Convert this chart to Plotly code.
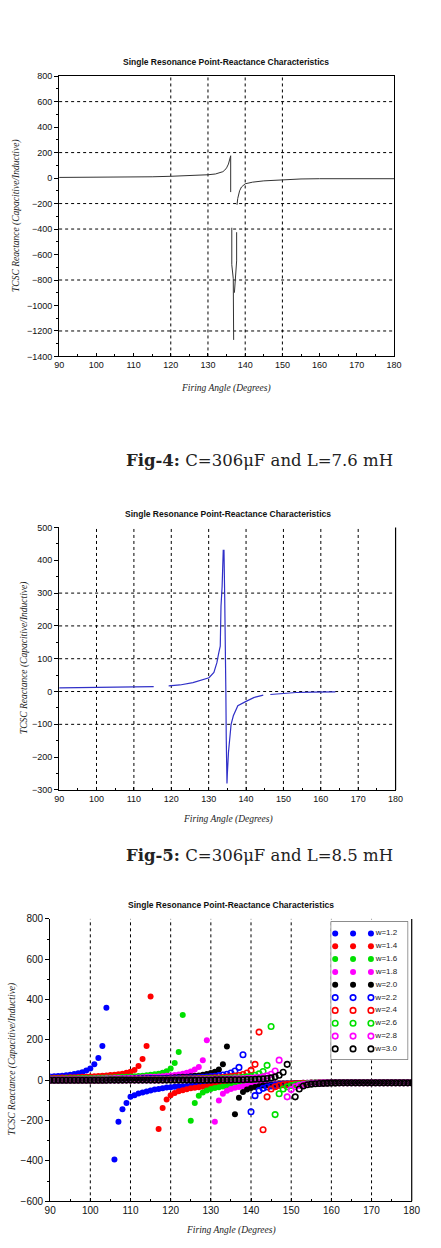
import plotly.graph_objects as go

PAGE_W, PAGE_H = 441, 1248

# ---------------- Fig-4 (C=306uF, L=7.6 mH) ----------------
FIG4_X = [90, 100, 110, 115, 120, 125, 130, 132, 133, 134, 134.5, 135, 135.5, 136, 136.1, 136.1, None,
          137.8, 138.0, 138.5, 139, 140, 142, 145, 150, 155, 160, 170, 180]
FIG4_Y = [5, 6, 8, 10, 14, 19, 26, 32, 39, 50, 62, 80, 110, 155, 175, -110, None,
          -210, -160, -100, -70, -45, -32, -22, -12, -7, -5, -5, -5]
FIG4_SPIKE_X = [136.4, 136.4, 136.8, 136.9, 136.9, None, 137.7, 137.7, 137.1]
FIG4_SPIKE_Y = [-390, -680, -790, -990, -1270, None, -425, -650, -900]
FIG4_GRID_X = [120, 130, 140, 150]
FIG4_GRID_Y = [600, 200, -200, -400, -800, -1200]

# ---------------- Fig-5 (C=306uF, L=8.5 mH) ----------------
FIG5_X = [90, 100, 107, 108, 115.3, None,
          119.3, 122.3, 125.8, 128.4, 130.1, 131.4, 132.2, 132.7, 133.1, 133.3,
          133.6, 133.9, 134.1, 134.3, 134.5, 134.6, 134.7, 134.9, 135.0, 135.3,
          135.6, 136.0, 136.6, 137.8, 140.0, 142.2, 144.6, None,
          146.5, 149.9, 153.4, 157.7, 163.9]
FIG5_Y = [11, 12, 13, 15, 15, None,
          17, 20, 27, 35, 42, 58, 88, 118, 138, 260,
          320, 430, 430, 280, 145, 0, -140, -280, -250, -185,
          -140, -100, -74, -43, -30, -18, -11, None,
          -9, -6, -3, -2, -1]
FIG5_GRID_X = [100, 110, 120, 130, 140, 150, 160, 170]
FIG5_GRID_Y = [300, 200, 100, 0, -100]

# ---------------- Fig-6 (family of curves) ----------------
ANGLES = list(range(90, 181))
W_LABELS = ["w=1.2", "w=1.4", "w=1.6", "w=1.8", "w=2.0",
            "w=2.2", "w=2.4", "w=2.6", "w=2.8", "w=3.0"]
W_COLORS = ["#0000ff", "#ff0000", "#00e000", "#ff00ff", "#000000",
            "#0000ff", "#ff0000", "#00e000", "#ff00ff", "#000000"]
W_FILLED = [True, True, True, True, True, False, False, False, False, False]

W12 = [19, 20, 21, 23, 25, 28, 31, 35, 40, 48,
       58, 79, 110, 170, 360, None, -393, -206, -143, -112,
       -82, -74, -66, -61, -56, -51, -46, -43, -40, -36,
       -34, -32, -30, -29, -28, -27, -26, -25, -24, -23,
       -22, -21, -21, -20, -20, -19, -19, -18, -18, -17,
       -17, -16, -16, -16, -15, -15, -15, -14, -14, -14,
       -14, -13, -13, -13, -13, -13, -13, -12, -12, -12,
       -12, -12, -12, -12, -12, -12, -12, -12, -12, -12,
       -12, -12, -12, -12, -12, -12, -12, -12, -12, -12,
       -12]
W14 = [12, 13, 13, 14, 14, 15, 15, 16, 17, 18,
       19, 20, 21, 22, 24, 26, 28, 30, 33, 37,
       42, 51, 71, 105, 170, 416, None, -242, -137, -95,
       -74, -63, -54, -49, -44, -40, -37, -34, -32, -30,
       -28, -27, -26, -25, -24, -23, -22, -21, -20, -20,
       -19, -18, -18, -17, -17, -16, -16, -15, -15, -15,
       -14, -14, -14, -13, -13, -13, -13, -12, -12, -12,
       -12, -12, -12, -12, -12, -12, -12, -12, -12, -12,
       -12, -12, -12, -12, -12, -12, -12, -12, -12, -12,
       -12]
W16 = [9, 9, 9, 9, 10, 10, 10, 11, 11, 11,
       12, 12, 13, 13, 14, 14, 15, 16, 17, 18,
       19, 20, 21, 23, 25, 27, 30, 33, 38, 45,
       58, 86, 140, 324, None, -201, -112, -77, -60, -50,
       -43, -38, -34, -31, -29, -27, -25, -24, -23, -22,
       -21, -20, -19, -18, -18, -17, -17, -16, -16, -15,
       -15, -15, -14, -14, -14, -13, -13, -12, -12, -12,
       -12, -12, -12, -12, -12, -12, -12, -12, -12, -12,
       -12, -12, -12, -12, -12, -12, -12, -12, -12, -12,
       -12]
W18 = [6, 6, 7, 7, 7, 7, 7, 8, 8, 8,
       8, 9, 9, 9, 10, 10, 11, 11, 12, 12,
       13, 13, 14, 15, 16, 17, 18, 19, 20, 22,
       24, 26, 29, 33, 38, 44, 53, 66, 99, 199,
       None, -206, -100, -67, -52, -43, -37, -33, -30, -27,
       -25, -24, -22, -21, -20, -19, -18, -18, -17, -16,
       -16, -15, -15, -14, -14, -13, -13, -12, -12, -12,
       -12, -12, -12, -12, -12, -12, -12, -12, -12, -12,
       -12, -12, -12, -12, -12, -12, -12, -12, -12, -12,
       -12]
W20 = [4, 4, 4, 4, 4, 4, 5, 5, 5, 5,
       5, 6, 6, 6, 6, 7, 7, 7, 8, 8,
       8, 9, 9, 10, 10, 11, 11, 12, 12, 13,
       14, 15, 16, 17, 18, 20, 22, 24, 27, 31,
       36, 43, 54, 79, 168, None, -168, -87, -58, -45,
       -38, -33, -29, -26, -24, -22, -21, -20, -19, -18,
       -17, -16, -15, -15, -14, -14, -13, -13, -12, -12,
       -12, -12, -12, -12, -12, -12, -12, -12, -12, -12,
       -12, -12, -12, -12, -12, -12, -12, -12, -12, -12,
       -12]
W22 = [2, 2, 2, 2, 2, 3, 3, 3, 3, 3,
       3, 3, 3, 4, 4, 4, 4, 4, 5, 5,
       5, 5, 6, 6, 6, 7, 7, 7, 8, 8,
       9, 9, 10, 10, 11, 12, 13, 14, 15, 16,
       18, 20, 23, 26, 30, 36, 46, 64, 127, None,
       -156, -76, -51, -40, -33, -28, -25, -22, -20, -19,
       -18, -17, -16, -15, -15, -14, -14, -13, -13, -12,
       -12, -12, -12, -12, -12, -12, -12, -12, -12, -12,
       -12, -12, -12, -12, -12, -12, -12, -12, -12, -12,
       -12]
W24 = [1, 1, 1, 2, 2, 2, 2, 2, 2, 2,
       2, 2, 2, 2, 3, 3, 3, 3, 3, 3,
       3, 4, 4, 4, 4, 4, 5, 5, 5, 5,
       6, 6, 6, 7, 7, 8, 8, 9, 9, 10,
       11, 12, 13, 14, 16, 18, 21, 24, 29, 36,
       49, 79, 239, -245, -82, -43, -32, -26, -22, -20,
       -18, -17, -16, -15, -15, -14, -14, -13, -13, -12,
       -12, -12, -12, -12, -12, -12, -12, -12, -12, -12,
       -12, -12, -12, -12, -12, -12, -12, -12, -12, -12,
       -12]
W26 = [1, 1, 1, 1, 1, 1, 1, 1, 2, 2,
       2, 2, 2, 2, 2, 2, 2, 2, 2, 3,
       3, 3, 3, 3, 3, 3, 3, 4, 4, 4,
       4, 4, 5, 5, 5, 5, 6, 6, 6, 7,
       7, 8, 8, 9, 10, 11, 12, 13, 15, 17,
       20, 25, 32, 44, 74, 267, -170, -67, -43, -32,
       -26, -22, -20, -18, -16, -15, -14, -14, -13, -13,
       -12, -12, -12, -12, -12, -12, -12, -12, -12, -12,
       -12, -12, -12, -12, -12, -12, -12, -12, -12, -12,
       -12]
W28 = [1, 1, 1, 1, 1, 1, 1, 1, 1, 1,
       1, 1, 1, 1, 1, 1, 1, 1, 1, 2,
       2, 2, 2, 2, 2, 2, 2, 2, 2, 3,
       3, 3, 3, 3, 3, 3, 4, 4, 4, 4,
       4, 5, 5, 5, 6, 6, 7, 7, 8, 9,
       10, 12, 14, 17, 22, 30, 46, 100, None, -82,
       -46, -32, -25, -21, -18, -16, -15, -14, -13, -13,
       -12, -12, -12, -12, -12, -12, -12, -12, -12, -12,
       -12, -12, -12, -12, -12, -12, -12, -12, -12, -12,
       -12]
W30 = [0, 0, 0, 0, 0, 0, 0, 0, 0, 0,
       0, 0, 0, 0, 0, 1, 1, 1, 1, 1,
       1, 1, 1, 1, 1, 1, 1, 1, 1, 1,
       1, 1, 1, 1, 1, 1, 1, 1, 1, 1,
       1, 2, 2, 2, 2, 2, 3, 3, 3, 4,
       4, 5, 6, 7, 9, 12, 17, 25, 40, 79,
       None, -82, -43, -28, -22, -19, -17, -16, -15, -14,
       -13, -13, -12, -12, -12, -12, -12, -12, -12, -12,
       -12, -12, -12, -12, -12, -12, -12, -12, -12, -12,
       -12]
W_SERIES = [W12, W14, W16, W18, W20, W22, W24, W26, W28, W30]
for s in W_SERIES:
    assert len(s) == len(ANGLES), len(s)
FIG6_GRID_X = [100, 110, 120, 130, 140, 150, 160, 170]

TITLE = "Single Resonance Point-Reactance Characteristics"
YTITLE = "TCSC Reactance (Capacitive/Inductive)"
XTITLE = "Firing Angle (Degrees)"
CAP4 = "<b>Fig-4:</b> C=306\u03bcF and L=7.6 mH"
CAP5 = "<b>Fig-5:</b> C=306\u03bcF and L=8.5 mH"


def px(x):
    return x / PAGE_W


def py(y):
    return 1 - y / PAGE_H


def marker_style(col, filled):
    if filled:
        return dict(symbol="circle", size=6, color=col, line=dict(width=0))
    return dict(symbol="circle-open", size=5.5, color=col, line=dict(width=1.6, color=col))


fig = go.Figure()

fig.add_trace(go.Scatter(x=FIG4_X, y=FIG4_Y, mode="lines", xaxis="x", yaxis="y",
                         line=dict(color="#333333", width=1), showlegend=False))
fig.add_trace(go.Scatter(x=FIG4_SPIKE_X, y=FIG4_SPIKE_Y, mode="lines", xaxis="x", yaxis="y",
                         line=dict(color="#333333", width=1), showlegend=False))
fig.add_trace(go.Scatter(x=FIG5_X, y=FIG5_Y, mode="lines", xaxis="x2", yaxis="y2",
                         line=dict(color="#3030c8", width=1.2), showlegend=False))

for lab, col, filled, ys in zip(W_LABELS, W_COLORS, W_FILLED, W_SERIES):
    fig.add_trace(go.Scatter(x=ANGLES, y=ys, mode="markers", xaxis="x3", yaxis="y3",
                             marker=marker_style(col, filled), name=lab, showlegend=False))

# legend drawn in a small auxiliary axis
LEG_COLS = [0, 1, 2]
for i, (lab, col, filled) in enumerate(zip(W_LABELS, W_COLORS, W_FILLED)):
    fig.add_trace(go.Scatter(x=LEG_COLS, y=[i] * len(LEG_COLS), mode="markers+text",
                             xaxis="x4", yaxis="y4", marker=marker_style(col, filled),
                             text=["", "", lab], textposition="middle right",
                             textfont=dict(family="Liberation Sans", size=8, color="#222"),
                             showlegend=False, hoverinfo="skip"))

TICKFONT = dict(family="Liberation Sans", size=9, color="#111")
shapes = []
GRID_LINE = dict(color="#000", width=1, dash="3px,3px")
for v in FIG4_GRID_X:
    shapes.append(dict(type="line", xref="x", yref="y domain", x0=v, x1=v, y0=0, y1=1,
                       line=GRID_LINE, layer="below"))
for v in FIG4_GRID_Y:
    shapes.append(dict(type="line", xref="x domain", yref="y", x0=0, x1=1, y0=v, y1=v,
                       line=GRID_LINE, layer="below"))
for v in FIG5_GRID_X:
    shapes.append(dict(type="line", xref="x2", yref="y2 domain", x0=v, x1=v, y0=0, y1=1,
                       line=GRID_LINE, layer="below"))
for v in FIG5_GRID_Y:
    shapes.append(dict(type="line", xref="x2 domain", yref="y2", x0=0, x1=1, y0=v, y1=v,
                       line=GRID_LINE, layer="below"))
for v in FIG6_GRID_X:
    shapes.append(dict(type="line", xref="x3", yref="y3 domain", x0=v, x1=v, y0=0, y1=1,
                       line=GRID_LINE, layer="below"))
# right borders of chart 2 and 3
shapes.append(dict(type="line", xref="x2 domain", yref="y2 domain", x0=1, x1=1, y0=0, y1=1,
                   line=dict(color="#000", width=1.2)))
shapes.append(dict(type="line", xref="x3 domain", yref="y3 domain", x0=1, x1=1, y0=0, y1=1,
                   line=dict(color="#000", width=1.2)))
# legend box
shapes.append(dict(type="rect", xref="x4 domain", yref="y4 domain", x0=0, x1=1, y0=0, y1=1,
                   fillcolor="white", line=dict(color="#555", width=1.2), layer="below"))


def xax(dom, anchor, mirror):
    return dict(domain=[px(dom[0]), px(dom[1])], anchor=anchor, range=[90, 180],
                tick0=90, dtick=10, showline=True, linecolor="#000", linewidth=1,
                mirror=mirror, ticks="inside", ticklen=3, tickcolor="#000",
                minor=dict(dtick=5, ticks="inside", ticklen=2, tickcolor="#000"),
                showgrid=False, zeroline=False, tickfont=TICKFONT, fixedrange=True)


def yax(dom, anchor, rng, dt, mirror):
    return dict(domain=[py(dom[1]), py(dom[0])], anchor=anchor, range=rng,
                dtick=dt, showline=True, linecolor="#000", linewidth=1, mirror=mirror,
                ticks="outside", ticklen=4, tickcolor="#000",
                minor=dict(dtick=dt / 2, ticks="outside", ticklen=2, tickcolor="#000"),
                showgrid=False, zeroline=False, tickfont=TICKFONT, fixedrange=True)


layout = dict(
    width=PAGE_W, height=PAGE_H, margin=dict(l=0, r=0, t=0, b=0),
    paper_bgcolor="white", plot_bgcolor="white", showlegend=False,
    xaxis=xax((55, 401.7), "y", True),
    yaxis=yax((71.7, 354.3), "x", [-1400, 800], 200, True),
    xaxis2=xax((55, 403.3), "y2", False),
    yaxis2=yax((526.7, 791.3), "x2", [-300, 500], 100, False),
    xaxis3=xax((45.7, 420), "y3", False),
    yaxis3=yax((921.3, 1206), "x3", [-600, 800], 200, False),
    xaxis4=dict(domain=[px(336.7), px(415.7)], anchor="y4", range=[-0.22, 4.05], visible=False,
                fixedrange=True),
    yaxis4=dict(domain=[py(1062.7), py(924.3)], anchor="x4", range=[9.8, -0.9], visible=False,
                fixedrange=True),
    shapes=shapes,
)
layout["xaxis3"]["tickfont"] = dict(family="Liberation Sans", size=10, color="#111")
layout["yaxis3"]["tickfont"] = dict(family="Liberation Sans", size=10, color="#111")
fig.update_layout(**layout)

ann = []
TFONT = dict(family="Liberation Sans", size=8.5, color="#111")
AFONT = dict(family="Liberation Serif", size=9.5, color="#222")


def add_text(text, x, y, font, angle=0):
    ann.append(dict(text=text, x=px(x), y=py(y), xref="paper", yref="paper",
                    xanchor="center", yanchor="middle", showarrow=False,
                    font=font, textangle=angle))


for tx, ty, yx, yy, xx, xy in [(228, 57.3, 11, 213, 228, 386.7),
                               (230, 513.3, 19, 658, 230, 820.7),
                               (233, 907.7, 7, 1063, 233, 1235.7)]:
    add_text("<b>" + TITLE + "</b>", tx, ty, TFONT)
    add_text("<i>" + YTITLE + "</i>", yx, yy, AFONT, -90)
    add_text("<i>" + XTITLE + "</i>", xx, xy, AFONT)

CFONT = dict(family="DejaVu Serif", size=16.5, color="#222")
add_text(CAP4, 262, 459.3, CFONT)
add_text(CAP5, 262, 857.3, CFONT)

fig.update_layout(annotations=ann)
fig.write_html("out.html")
